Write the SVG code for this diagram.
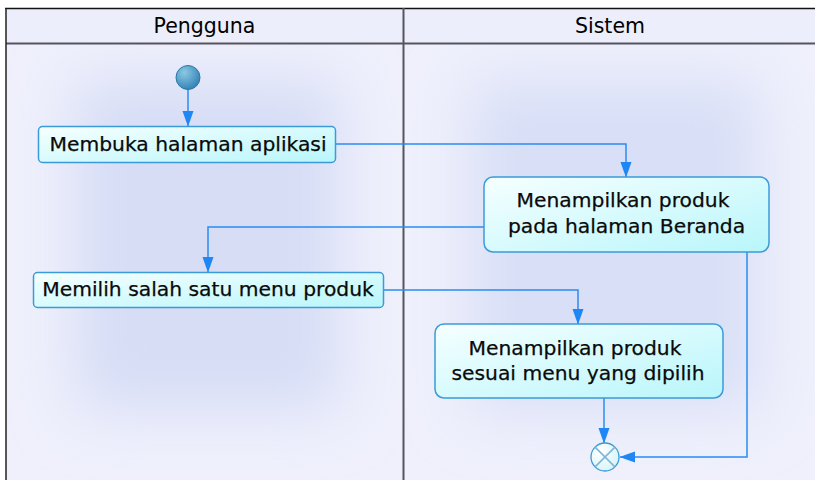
<svg xmlns="http://www.w3.org/2000/svg" width="815" height="480" viewBox="0 0 815 480">
  <style>
    .lane-title { font-family: "DejaVu Sans", "Liberation Sans", sans-serif; font-size: 20.5px; fill: #000; text-anchor: middle; }
    .label { font-family: "DejaVu Sans", "Liberation Sans", sans-serif; font-size: 20.3px; fill: #0a0a0a; text-anchor: middle; stroke: #0a0a0a; stroke-width: 0.25; }
    .action { fill: url(#actionFill); stroke: #3b9ad8; stroke-width: 1.5; }
    .flow { fill: none; stroke: #2a8cf2; stroke-width: 1.5; }
    .lane-line { stroke: #55555f; stroke-width: 2; }
  </style>
  <defs>
    <linearGradient id="actionFill" x1="0" y1="0" x2="1" y2="1">
      <stop offset="0" stop-color="#f6ffff"/>
      <stop offset="1" stop-color="#b8f6fb"/>
    </linearGradient>
    <radialGradient id="startFill" cx="0.35" cy="0.3" r="0.8">
      <stop offset="0" stop-color="#8cc8e4"/>
      <stop offset="1" stop-color="#2a7db0"/>
    </radialGradient>
    <radialGradient id="endFill" cx="0.35" cy="0.3" r="0.8">
      <stop offset="0" stop-color="#ffffff"/>
      <stop offset="1" stop-color="#d4f4fb"/>
    </radialGradient>
    <filter id="glow" x="-50%" y="-50%" width="200%" height="200%">
      <feGaussianBlur stdDeviation="30"/>
    </filter>
    <clipPath id="laneLeft"><rect x="6" y="44" width="397" height="436"/></clipPath>
    <clipPath id="laneRight"><rect x="403" y="44" width="412" height="436"/></clipPath>
    <marker id="arrow" markerUnits="userSpaceOnUse" viewBox="-16 -7 17 14" refX="0" refY="0" markerWidth="17" markerHeight="14" orient="auto">
      <path d="M0,0 L-5,-2 L-15,-5.5 L-15,5.5 L-5,2 Z" fill="#1f86f5"/>
    </marker>
  </defs>

  <!-- swimlane frame -->
  <g id="swimlanes">
    <rect x="0" y="0" width="815" height="480" fill="#ffffff"/>
    <rect x="6" y="8" width="809" height="472" fill="#eff0fc"/>
    <g clip-path="url(#laneLeft)">
      <rect x="75" y="80" width="265" height="330" fill="#d6ddf5" filter="url(#glow)"/>
    </g>
    <g clip-path="url(#laneRight)">
      <rect x="470" y="80" width="290" height="330" fill="#d8dff6" filter="url(#glow)"/>
    </g>
    <rect x="6" y="8" width="809" height="36" fill="#eceefb"/>
    <line x1="5" y1="8.5" x2="815" y2="8.5" stroke="#111" stroke-width="1.5"/>
    <line x1="6" y1="43.5" x2="815" y2="43.5" class="lane-line"/>
    <line x1="6" y1="8" x2="6" y2="480" stroke="#222" stroke-width="1.5"/>
    <line x1="403.5" y1="8" x2="403.5" y2="480" class="lane-line"/>
    <text class="lane-title" x="204.5" y="33">Pengguna</text>
    <text class="lane-title" x="610" y="33">Sistem</text>
  </g>

  <!-- control flows -->
  <g id="connectors">
    <path class="flow" d="M188,89 L188,126" marker-end="url(#arrow)"/>
    <path class="flow" d="M336,144 L626,144 L626,177" marker-end="url(#arrow)"/>
    <path class="flow" d="M484,227 L208,227 L208,272" marker-end="url(#arrow)"/>
    <path class="flow" d="M384,290 L578,290 L578,324" marker-end="url(#arrow)"/>
    <path class="flow" d="M604,398 L604,443" marker-end="url(#arrow)"/>
    <path class="flow" d="M747,252 L747,457 L620,457" marker-end="url(#arrow)"/>
  </g>

  <g id="start">
    <circle cx="188" cy="77.5" r="12" fill="url(#startFill)" stroke="#2a78aa" stroke-width="1"/>
  </g>

  <g id="membuka-halaman">
    <rect class="action" x="38.5" y="126.5" width="297" height="36" rx="4"/>
    <text class="label" x="188" y="151">Membuka halaman aplikasi</text>
  </g>

  <g id="tampil-beranda">
    <rect class="action" x="484" y="177" width="285" height="75" rx="9"/>
    <text class="label" x="623" y="207">Menampilkan produk</text>
    <text class="label" x="626.5" y="233">pada halaman Beranda</text>
  </g>

  <g id="pilih-menu">
    <rect class="action" x="33.5" y="272.5" width="350" height="35" rx="4"/>
    <text class="label" x="208" y="296">Memilih salah satu menu produk</text>
  </g>

  <g id="tampil-sesuai-menu">
    <rect class="action" x="435" y="324" width="288" height="74" rx="9"/>
    <text class="label" x="575" y="355">Menampilkan produk</text>
    <text class="label" x="578" y="380">sesuai menu yang dipilih</text>
  </g>

  <g id="end">
    <circle cx="605" cy="457" r="14" fill="url(#endFill)" stroke="#3b9ad8" stroke-width="1.3"/>
    <line x1="595.1" y1="447.1" x2="614.9" y2="466.9" stroke="#7fb4d8" stroke-width="1.5"/>
    <line x1="614.9" y1="447.1" x2="595.1" y2="466.9" stroke="#7fb4d8" stroke-width="1.5"/>
  </g>
</svg>
